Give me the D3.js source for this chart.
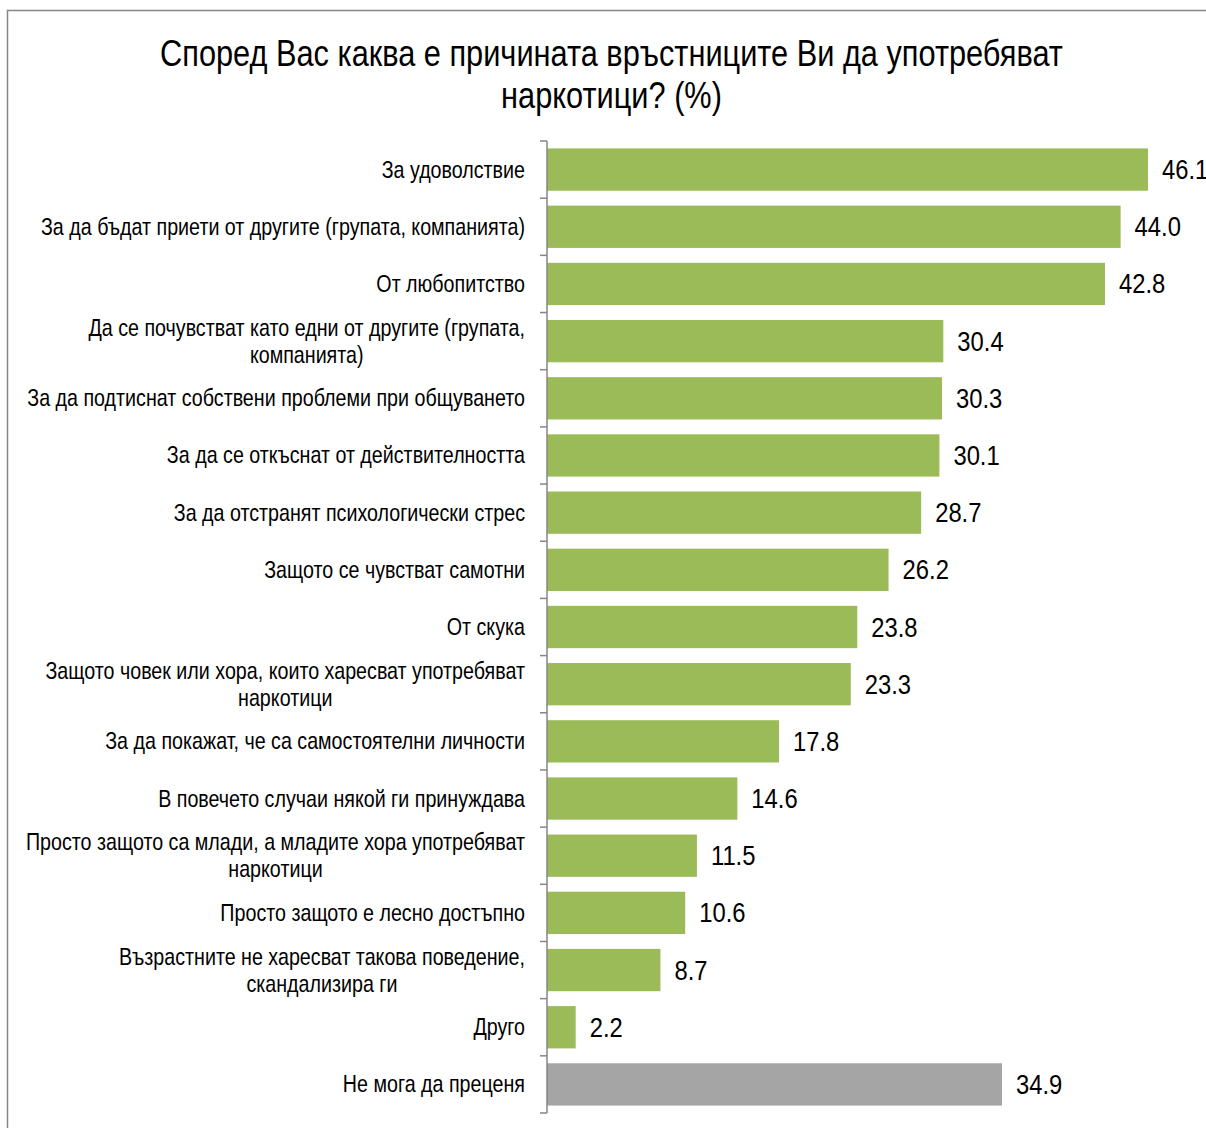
<!DOCTYPE html>
<html><head><meta charset="utf-8">
<script src="https://cdn.jsdelivr.net/npm/d3@7"></script>
<style>
body{margin:0;background:#fff;}
svg{display:block;font-family:"Liberation Sans",Arial,sans-serif;}
</style></head><body>
<svg id="c" width="1206" height="1128"></svg>
<script>
const titleLines = ["Според Вас каква е причината връстниците Ви да употребяват", "наркотици? (%)"];
const categories = [
  ["За удоволствие"],
  ["За да бъдат приети от другите (групата, компанията)"],
  ["От любопитство"],
  ["Да се почувстват като едни от другите (групата,", "компанията)"],
  ["За да подтиснат собствени проблеми при общуването"],
  ["За да се откъснат от действителността"],
  ["За да отстранят психологически стрес"],
  ["Защото се чувстват самотни"],
  ["От скука"],
  ["Защото човек или хора, които харесват употребяват", "наркотици"],
  ["За да покажат, че са самостоятелни личности"],
  ["В повечето случаи някой ги принуждава"],
  ["Просто защото са млади, а младите хора употребяват", "наркотици"],
  ["Просто защото е лесно достъпно"],
  ["Възрастните не харесват такова поведение,", "скандализира ги"],
  ["Друго"],
  ["Не мога да преценя"]
];
const values = [46.1, 44.0, 42.8, 30.4, 30.3, 30.1, 28.7, 26.2, 23.8, 23.3, 17.8, 14.6, 11.5, 10.6, 8.7, 2.2, 34.9];
const barColors = ["#9BBB59","#9BBB59","#9BBB59","#9BBB59","#9BBB59","#9BBB59","#9BBB59","#9BBB59","#9BBB59","#9BBB59","#9BBB59","#9BBB59","#9BBB59","#9BBB59","#9BBB59","#9BBB59","#A5A5A5"];

const SX = 0.82; // narrow-font emulation
const svg = d3.select("#c");
svg.append("rect").attr("x",7.5).attr("y",10.5).attr("width",1210).attr("height",1130)
  .attr("fill","none").attr("stroke","#868686").attr("stroke-width",1.5);

function ntext(parent, x, y, str, size, anchor, sx){
  const g = parent.append("g").attr("transform",`translate(${x},${y}) scale(${sx||SX},1)`);
  return g.append("text").attr("x",0).attr("y",0).attr("font-size",size).attr("text-anchor",anchor||"start").attr("fill","#000").text(str);
}

titleLines.forEach((t,i)=>ntext(svg, 611.5, 66+i*42, t, 37.5, "middle"));

const x0 = 547;
const x = d3.scaleLinear().domain([0,46.1]).range([x0,1148]);
const idx = d3.range(categories.length);
const y = d3.scaleBand().domain(idx).range([141,1113]).paddingInner(0.26).paddingOuter(0.13);

svg.append("g").selectAll("rect").data(idx).join("rect")
  .attr("x",x(0)).attr("y",i=>y(i)).attr("width",i=>x(values[i])-x(0)).attr("height",y.bandwidth())
  .attr("fill",i=>barColors[i]);

// axis
const step = y.step();
const tickYs = d3.range(categories.length+1).map(k=>141+k*step);
const ax = svg.append("g").attr("stroke","#868686").attr("stroke-width",1.5);
ax.append("line").attr("x1",x0).attr("x2",x0).attr("y1",141).attr("y2",1113);
ax.selectAll("line.t").data(tickYs).join("line").attr("class","t")
  .attr("x1",x0-7).attr("x2",x0).attr("y1",d=>d).attr("y2",d=>d);

// category labels
const lg = svg.append("g");
const LS = 24, LH = 27;
idx.forEach(i=>{
  const lines = categories[i];
  const cy = y(i)+y.bandwidth()/2;
  const tmp = lines.map(l=>ntext(lg,0,0,l,LS,"start"));
  const w = d3.max(tmp.map(t=>t.node().getComputedTextLength()))*SX;
  tmp.forEach(t=>t.node().parentNode.remove());
  const cx = 525 - w/2;
  lines.forEach((l,k)=>ntext(lg, cx, cy + (k-(lines.length-1)/2)*LH + 8, l, LS, "middle"));
});

// value labels
const vg = svg.append("g");
idx.forEach(i=>ntext(vg, x(values[i])+14, y(i)+y.bandwidth()/2+9.5, values[i].toFixed(1), 28, "start", 0.85));
</script>
</body></html>
